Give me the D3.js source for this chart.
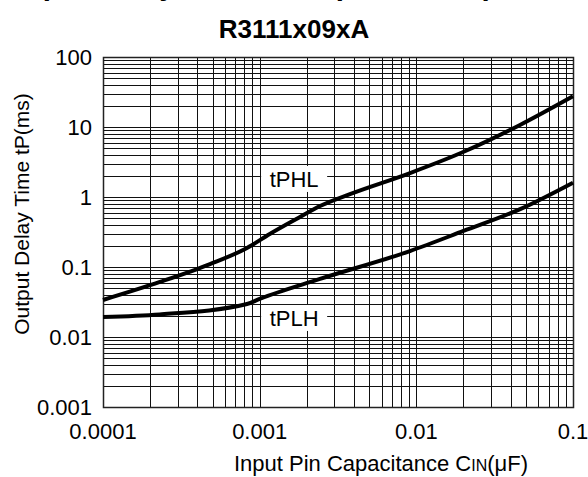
<!DOCTYPE html>
<html>
<head>
<meta charset="utf-8">
<script src="https://cdn.jsdelivr.net/npm/d3@7"></script>
<style>
  body { margin: 0; background: #fff; }
  svg { display: block; font-family: "Liberation Sans", Arial, Helvetica, sans-serif; }
</style>
</head>
<body>
<div id="chart"></div>
<script>
// curve data (capacitance in uF, delay in ms)
var capPHL = [0.0001, 0.000231, 0.000482, 0.00083, 0.00116, 0.00181, 0.00243, 0.00377, 0.00912, 0.0199, 0.0459, 0.1];
var tPHL   = [0.0338, 0.0611, 0.110, 0.187, 0.296, 0.518, 0.744, 1.10, 2.20, 4.39, 10.7, 27.5];
var capPLH = [0.0001, 0.00023, 0.00083, 0.001, 0.0024, 0.0091, 0.02, 0.046, 0.1];
var tPLH   = [0.0193, 0.021, 0.0296, 0.035, 0.067, 0.169, 0.327, 0.67, 1.6];

var xTicks = [0.0001, 0.001, 0.01, 0.1];
var xTickLabels = ["0.0001", "0.001", "0.01", "0.1"];
var yTicks = [0.001, 0.01, 0.1, 1, 10, 100];
var yTickLabels = ["0.001", "0.01", "0.1", "1", "10", "100"];

var curveNames = ["tPHL", "tPLH"];
var labelCap = [0.00166, 0.00166];
var labelTime = [1.81, 0.0187];

var width = 588, height = 477;
var margin = {top: 57, right: 15, bottom: 70, left: 103};
var chartWidth = width - margin.left - margin.right;
var chartHeight = height - margin.top - margin.bottom;

var svg = d3.select("#chart").append("svg")
    .attr("width", width)
    .attr("height", height);

// titles (the top one is mostly cut off in the original)
svg.append("text")
    .attr("x", -8).attr("y", -5)
    .attr("font-weight", "bold")
    .attr("font-size", 29.5)
    .text("Output Delay Time vs. Input Pin Capacitance");

svg.append("text")
    .attr("x", 294).attr("y", 38)
    .attr("text-anchor", "middle")
    .attr("font-weight", "bold")
    .attr("font-size", 26)
    .text("R3111x09xA");

var g = svg.append("g")
    .attr("transform", `translate(${margin.left}, ${margin.top})`);

var xScale = d3.scaleLog().domain([0.0001, 0.1]).range([0, chartWidth]);
var yScale = d3.scaleLog().domain([0.001, 100]).range([chartHeight, 0]);

// grid: 1..9 of each decade
function gridValues(lo, hi) {
  var out = [];
  for (var e = Math.log10(lo); e < Math.log10(hi); e++) {
    for (var k = 1; k <= 9; k++) out.push(k * Math.pow(10, e));
  }
  return out;
}
var vx = gridValues(0.0001, 0.1);
var hy = gridValues(0.001, 100);

g.append("g").selectAll("line")
  .data(vx)
  .join("line")
    .attr("x1", d => Math.round(xScale(d)) + 0.5)
    .attr("x2", d => Math.round(xScale(d)) + 0.5)
    .attr("y1", 0).attr("y2", chartHeight)
    .attr("stroke", "#111").attr("stroke-width", 1);

g.append("g").selectAll("line")
  .data(hy)
  .join("line")
    .attr("y1", d => Math.round(yScale(d)) + 0.5)
    .attr("y2", d => Math.round(yScale(d)) + 0.5)
    .attr("x1", 0).attr("x2", chartWidth)
    .attr("stroke", "#111").attr("stroke-width", 1);

g.append("rect")
    .attr("x", 0.5).attr("y", 0.5)
    .attr("width", chartWidth).attr("height", chartHeight)
    .attr("fill", "none").attr("stroke", "#222").attr("stroke-width", 1.5);

// white boxes behind curve labels
g.append("g").selectAll("rect")
  .data(curveNames)
  .join("rect")
    .attr("x", (d, i) => xScale(labelCap[i]) - 33)
    .attr("y", (d, i) => yScale(labelTime[i]) - 13)
    .attr("width", 66).attr("height", 26)
    .attr("fill", "#fff");

g.append("g").selectAll("text")
  .data(curveNames)
  .join("text")
    .attr("x", (d, i) => xScale(labelCap[i]))
    .attr("y", (d, i) => yScale(labelTime[i]) + 8)
    .attr("text-anchor", "middle")
    .attr("font-size", 22)
    .text(d => d);

var line = d3.line()
    .x(d => xScale(d[0]))
    .y(d => yScale(d[1]))
    .curve(d3.curveMonotoneX);

g.append("path")
    .datum(d3.zip(capPHL, tPHL))
    .attr("d", line)
    .attr("fill", "none").attr("stroke", "#000").attr("stroke-width", 4);

g.append("path")
    .datum(d3.zip(capPLH, tPLH))
    .attr("d", line)
    .attr("fill", "none").attr("stroke", "#000").attr("stroke-width", 4);

// tick labels
g.append("g").selectAll("text")
  .data(xTicks)
  .join("text")
    .attr("x", d => xScale(d))
    .attr("y", chartHeight + 32)
    .attr("text-anchor", "middle")
    .attr("font-size", 22)
    .text((d, i) => xTickLabels[i]);

g.append("g").selectAll("text")
  .data(yTicks)
  .join("text")
    .attr("x", -11)
    .attr("y", d => yScale(d))
    .attr("dy", "0.36em")
    .attr("text-anchor", "end")
    .attr("font-size", 22)
    .text((d, i) => yTickLabels[i]);

// axis titles
var xt = svg.append("text")
    .attr("x", 381)
    .attr("y", 471)
    .attr("text-anchor", "middle")
    .attr("font-size", 22);
xt.append("tspan").text("Input Pin Capacitance C");
xt.append("tspan").attr("font-size", 16).text("IN");
xt.append("tspan").text("(\u03bcF)");

svg.append("text")
    .attr("transform", "translate(29, 214) rotate(-90)")
    .attr("text-anchor", "middle")
    .attr("font-size", 21)
    .text("Output Delay Time tP(ms)");
</script>
</body>
</html>
